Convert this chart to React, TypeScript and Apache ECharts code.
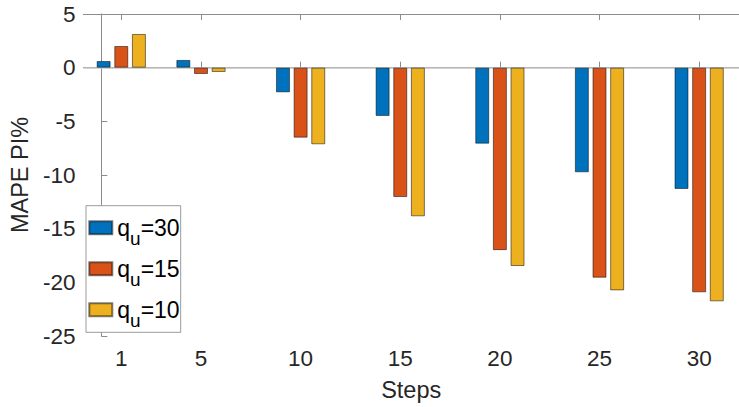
import React, { useEffect, useRef } from "react";
import * as echarts from "echarts";

// Forecast horizons (steps ahead)
const steps = [1, 5, 10, 15, 20, 25, 30];
// MAPE improvement (%) for each upper quantile setting
const qu30 = [0.62, 0.72, -2.3, -4.5, -7.08, -9.75, -11.3];
const qu15 = [2.02, -0.59, -6.52, -12.05, -17.0, -19.57, -20.93];
const qu10 = [3.14, -0.4, -7.14, -13.85, -18.48, -20.75, -21.77];
const seriesNames = ["30", "15", "10"];
const yTicks = [5, 0, -5, -10, -15, -20, -25];

const FONT = "'Liberation Sans', Arial, Helvetica, sans-serif";
const TEXT = "#262626";
const AXIS = "#8c8c8c";
const COLORS = ["#0072BD", "#D95319", "#EDB120"];

export default function App() {
  const ref = useRef<HTMLDivElement>(null);

  useEffect(() => {
    if (!ref.current) return;
    const chart = echarts.init(ref.current, null, { renderer: "svg" });

    const pairs = (vals: number[]) => steps.map((s, i) => [s, vals[i]]);
    const all = [qu30, qu15, qu10];

    const barSeries = all.map((vals, i) => ({
      name: seriesNames[i],
      type: "bar" as const,
      data: pairs(vals),
      barWidth: 14,
      barGap: "26%",
      itemStyle: {
        color: COLORS[i],
        borderColor: "rgba(0,0,0,0.5)",
        borderWidth: 1,
      },
      markLine:
        i === 0
          ? {
              silent: true,
              symbol: "none",
              label: { show: false },
              lineStyle: { color: "#c4c4c4", width: 1.5, type: "solid" },
              data: [{ yAxis: 0 }],
              z: 1,
            }
          : undefined,
    }));

    const xCommon = {
      type: "value" as const,
      min: -0.9,
      max: 32,
      splitLine: { show: false },
      axisLine: { show: true, lineStyle: { color: AXIS, width: 1 } },
      axisTick: {
        show: true,
        inside: true,
        length: 6,
        customValues: steps,
        lineStyle: { color: AXIS },
      },
    };

    chart.setOption({
      animation: false,
      textStyle: { fontFamily: FONT },
      grid: { left: 80.7, top: 14, right: -8, bottom: 71, containLabel: false },
      xAxis: [
        {
          ...xCommon,
          position: "bottom",
          name: "Steps",
          nameLocation: "middle",
          nameGap: 42,
          nameTextStyle: { color: TEXT, fontSize: 23.5, fontFamily: FONT },
          axisLabel: {
            customValues: steps,
            color: TEXT,
            fontSize: 22.5,
            margin: 11,
            fontFamily: FONT,
          },
        },
        {
          ...xCommon,
          position: "top",
          axisLabel: { show: false },
        },
      ],
      yAxis: {
        type: "value",
        min: -25,
        max: 5,
        interval: 5,
        name: "MAPE PI%",
        nameLocation: "middle",
        nameGap: 46,
        nameRotate: 90,
        nameTextStyle: { color: TEXT, fontSize: 23.5, fontFamily: FONT },
        splitLine: { show: false },
        axisLine: { show: true, lineStyle: { color: AXIS, width: 1 } },
        axisTick: { show: true, inside: true, length: 6, lineStyle: { color: AXIS } },
        axisLabel: {
          color: TEXT,
          fontSize: 22.5,
          margin: 8,
          fontFamily: FONT,
          formatter: (v: number) => (yTicks.includes(v) ? String(v) : ""),
        },
      },
      legend: {
        orient: "vertical",
        left: 86,
        top: 205.7,
        padding: [1.6, 1, 2, 2.3],
        itemGap: 0,
        itemWidth: 23,
        itemHeight: 13,
        backgroundColor: "#ffffff",
        borderColor: "#9a9a9a",
        borderWidth: 1,
        borderRadius: 0,
        icon: "rect",
        data: seriesNames,
        formatter: (name: string) => `{q|q}{u|u}{e|=${name}}`,
        textStyle: {
          color: "#000000",
          fontFamily: FONT,
          rich: {
            q: { fontSize: 23, lineHeight: 30, fontFamily: FONT, color: "#000" },
            u: {
              fontSize: 19,
              lineHeight: 18,
              padding: [22, 0, 0, 0],
              fontFamily: FONT,
              color: "#000",
            },
            e: { fontSize: 23, lineHeight: 30, fontFamily: FONT, color: "#000" },
          },
        },
      },
      series: barSeries,
    });

    return () => chart.dispose();
  }, []);

  return (
    <div
      ref={ref}
      style={{ position: "fixed", left: 0, top: 0, width: 739, height: 407, background: "#fff" }}
    />
  );
}
